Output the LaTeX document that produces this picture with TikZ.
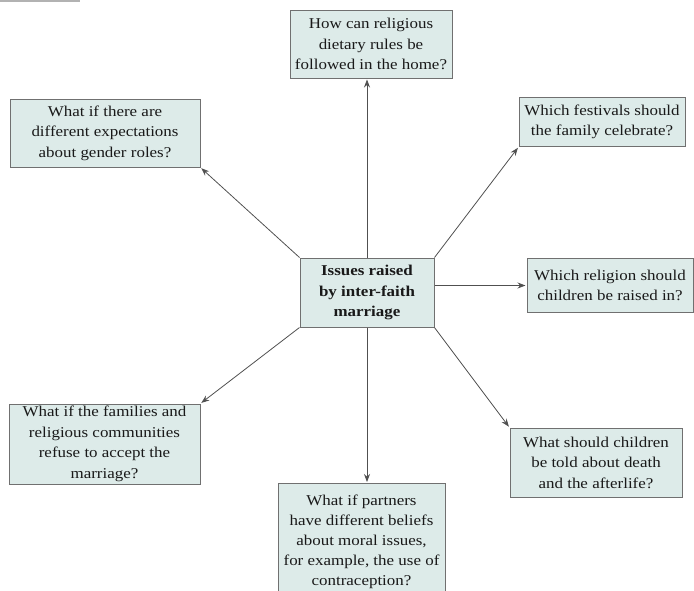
\documentclass[tikz,border=0pt]{standalone}
\usepackage{fontspec}
\setmainfont[FakeStretch=1.13]{Liberation Serif}
\usetikzlibrary{arrows.meta}
\definecolor{boxfill}{HTML}{DDEBE9}
\definecolor{boxline}{HTML}{707070}
\definecolor{arrowline}{HTML}{505050}
\tikzset{
  issue/.style={draw=boxline, line width=1pt, fill=boxfill, align=center,
    inner sep=0pt, font=\fontsize{15}{20.5}\selectfont, text=black!90},
  hub/.style={issue, font=\fontsize{15}{20.5}\selectfont\bfseries},
  link/.style={draw=arrowline, line width=0.8pt,
    -{Stealth[length=8pt,width=6pt]}, shorten >=1pt}
}
\begin{document}
\begin{tikzpicture}[x=1pt,y=-1pt]
\useasboundingbox (0,0) rectangle (694,590);
\clip (0,0) rectangle (694,590);
\fill[gray!60] (0,0) rectangle (80,1.5);

\node[hub, minimum width=134pt, minimum height=69pt] (c) at (367,292.5)
  {Issues raised\\by inter-faith\\marriage};

\node[issue, minimum width=162pt, minimum height=68pt] (t) at (371,44)
  {How can religious\\dietary rules be\\followed in the home?};
\node[issue, minimum width=190pt, minimum height=68pt] (tl) at (105,133)
  {What if there are\\different expectations\\about gender roles?};
\node[issue, minimum width=166pt, minimum height=49pt] (tr) at (602,122)
  {Which festivals should\\the family celebrate?};
\node[issue, minimum width=166pt, minimum height=54pt] (r) at (610,285.5)
  {Which religion should\\children be raised in?};
\node[issue, minimum width=191pt, minimum height=80pt] (bl) at (104.5,444)
  {What if the families and\\religious communities\\refuse to accept the\\marriage?};
\node[issue, minimum width=172pt, minimum height=69pt] (br) at (596,462.5)
  {What should children\\be told about death\\and the afterlife?};
\node[issue, minimum width=167pt, minimum height=117pt, anchor=north,
  font=\fontsize{15}{20}\selectfont] (b) at (361.5,483)
  {What if partners\\have different beliefs\\about moral issues,\\for example, the use of\\contraception?};

\draw[link] (c.north) -- (c.north |- t.south);
\draw[link] (c.north west) -- (tl.south east);
\draw[link] (c.north east) -- (tr.south west);
\draw[link] (c.east |- r.west) -- (r.west);
\draw[link] (c.south west) -- (bl.north east);
\draw[link] (c.south) -- (c.south |- b.north);
\draw[link] (c.south east) -- (br.north west);
\end{tikzpicture}
\end{document}
